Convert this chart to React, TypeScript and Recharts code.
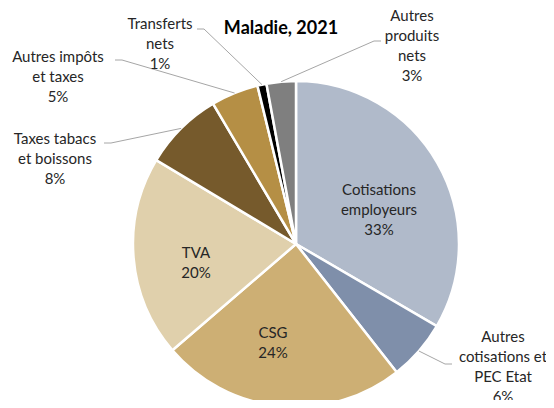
import { PieChart, Pie, Cell } from "recharts";

const categories = [
  "Cotisations employeurs",
  "Autres cotisations et PEC Etat",
  "CSG",
  "TVA",
  "Taxes tabacs et boissons",
  "Autres impôts et taxes",
  "Transferts nets",
  "Autres produits nets",
];
// share of total resources, %
const shares = [33.4, 6.0, 24.3, 19.9, 7.9, 4.7, 0.9, 2.9];
const labelLines = [
  ["Cotisations", "employeurs"],
  ["Autres", "cotisations et", "PEC Etat"],
  ["CSG"],
  ["TVA"],
  ["Taxes tabacs", "et boissons"],
  ["Autres impôts", "et taxes"],
  ["Transferts", "nets"],
  ["Autres", "produits", "nets"],
];

const colors = ["#B0BACA", "#7F8FAA", "#CDAF74", "#E0D0AC", "#765A2C", "#B58F45", "#000000", "#7F7F7F"];

// where Excel put each label: text centre x, first line y, and leader end (outside labels only)
const labelPlacement: { x: number; y: number; end?: [number, number]; side?: number }[] = [
  { x: 379, y: 189 },
  { x: 503, y: 336, end: [452, 364], side: -1 },
  { x: 273, y: 332 },
  { x: 196, y: 252 },
  { x: 55, y: 138, end: [104, 143], side: 1 },
  { x: 58, y: 56, end: [115, 60], side: 1 },
  { x: 160, y: 23, end: [197, 29], side: 1 },
  { x: 412, y: 15, end: [381, 41], side: -1 },
];

const data = categories.map((name, i) => ({ name, value: shares[i] }));

const LINE_H = 20;
const RAD = Math.PI / 180;

function renderLabel(props: any) {
  const { cx, cy, midAngle, outerRadius, index } = props;
  const place = labelPlacement[index];
  const lines = [...labelLines[index], `${Math.round(shares[index])}%`];
  let leader = null;
  if (place.end) {
    const sx = cx + outerRadius * Math.cos(-midAngle * RAD);
    const sy = cy + outerRadius * Math.sin(-midAngle * RAD);
    const [ex, ey] = place.end;
    const bx = ex + 7 * (place.side || 1);
    leader = (
      <polyline
        points={`${ex},${ey} ${bx},${ey} ${sx},${sy}`}
        fill="none"
        stroke="#A6A6A6"
        strokeWidth={1}
      />
    );
  }
  return (
    <g key={`lbl-${index}`}>
      {leader}
      {lines.map((t, k) => (
        <text
          key={k}
          x={place.x}
          y={place.y + k * LINE_H}
          textAnchor="middle"
          dominantBaseline="central"
          fontFamily="Lato, sans-serif"
          fontSize={15}
          fill="#262626"
        >
          {t}
        </text>
      ))}
    </g>
  );
}

export default function App() {
  return (
    <div style={{ width: 554, height: 408, position: "relative", margin: -8 }}>
      <PieChart width={554} height={408} margin={{ top: 0, right: 0, bottom: 0, left: 0 }}>
        <text
          x={281}
          y={27}
          textAnchor="middle"
          dominantBaseline="central"
          fontFamily="Lato, sans-serif"
          fontWeight="bold"
          fontSize={18}
          fill="#000"
        >
          Maladie, 2021
        </text>
        <Pie
          data={data}
          dataKey="value"
          nameKey="name"
          cx={296}
          cy={244}
          outerRadius={163}
          startAngle={90}
          endAngle={-270}
          stroke="#ffffff"
          strokeWidth={2.5}
          label={renderLabel}
          labelLine={false}
          isAnimationActive={false}
        >
          {data.map((d, i) => (
            <Cell key={d.name} fill={colors[i]} />
          ))}
        </Pie>
      </PieChart>
    </div>
  );
}
